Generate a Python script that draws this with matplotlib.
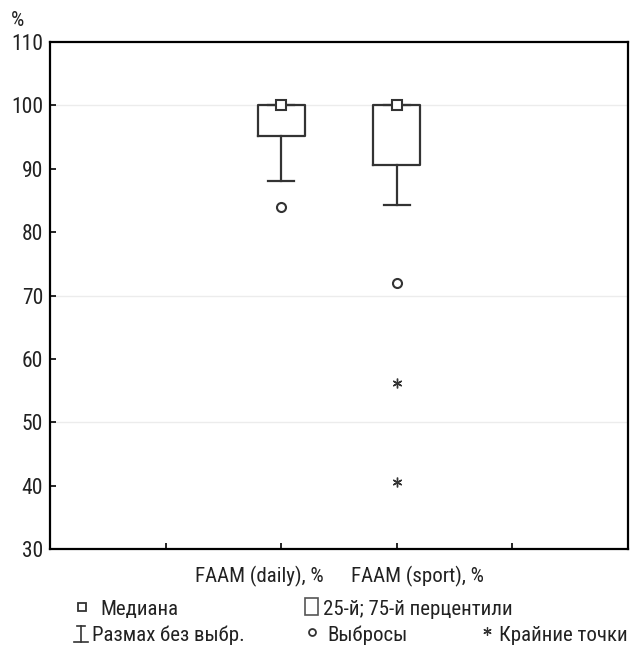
import matplotlib
matplotlib.use('Agg')
import matplotlib.pyplot as plt
from matplotlib.patches import Rectangle
from matplotlib.lines import Line2D
from matplotlib import font_manager

# ---- data ----
categories = ["FAAM (daily), %", "FAAM (sport), %"]
positions = [2, 3]
medians = [100, 100]
q1 = [95.1, 90.6]
q3 = [100, 100]
whisker_low = [88.0, 84.3]
whisker_high = [100, 100]
outliers = [[84.0], [71.9]]
extremes = [[], [56.2, 40.6]]
yticks = [30, 40, 50, 60, 70, 80, 90, 100, 110]
grid_levels = [100, 70, 50]
legend_row1 = ["Медиана", "25-й; 75-й перцентили"]
legend_row2 = ["Размах без выбр.", "Выбросы", "Крайние точки"]

names = {f.name for f in font_manager.fontManager.ttflist}
condensed = [n for n in ['Roboto Condensed', 'Liberation Sans Narrow', 'Open Sans Condensed']
             if n in names]
if condensed:
    FAM = [condensed[0], 'DejaVu Sans']
    FS = 15
else:
    FAM = ['Liberation Sans', 'DejaVu Sans']
    FS = 12.8
plt.rcParams['font.family'] = FAM
DARK = '#333333'
TXT = '#222222'

W, H = 632, 646
fig = plt.figure(figsize=(W / 100, H / 100), dpi=100)
ax = fig.add_axes([50 / W, (H - 549) / H, 578 / W, 507 / H])

stats = []
for m, a, b, lo, hi in zip(medians, q1, q3, whisker_low, whisker_high):
    stats.append(dict(med=m, q1=a, q3=b, whislo=lo, whishi=hi, fliers=[]))

ax.bxp(stats, positions=positions, widths=0.41, capwidths=0.22,
       showfliers=False, manage_ticks=False,
       boxprops=dict(color=DARK, linewidth=1.6),
       whiskerprops=dict(color=DARK, linewidth=1.6),
       capprops=dict(color=DARK, linewidth=1.6),
       medianprops=dict(linewidth=0))
ax.plot(positions, medians, 's', mfc='white', mec=DARK, ms=6.5, mew=1.5, zorder=5)

for p, vals in zip(positions, outliers):
    ax.plot([p] * len(vals), vals, 'o', mfc='white', mec=DARK, ms=6.5, mew=1.5, zorder=5)
for p, vals in zip(positions, extremes):
    ax.plot([p] * len(vals), vals, marker=(6, 2, 0), ls='none', mec=DARK,
            ms=7, mew=1.0, zorder=5)

for g in grid_levels:
    ax.axhline(g, color='#ececec', lw=1.0, zorder=0)

ax.set_xlim(0, 5)
ax.set_ylim(30, 110)
ax.set_yticks(yticks)
ax.set_yticklabels([str(t) for t in yticks])
ax.set_xticks([1, 2, 3, 4])
ax.set_xticklabels([])
ax.tick_params(axis='both', direction='in', length=4, width=1.2, color='black',
               labelsize=FS + 0.5, labelcolor=TXT)
ax.tick_params(axis='y', pad=5)
for s in ax.spines.values():
    s.set_linewidth(1.6)
    s.set_color('black')

# category labels below the axis
label_offsets = [-0.19, 0.18]
for p, off, c in zip(positions, label_offsets, categories):
    ax.text(p + off, -0.065, c, transform=ax.get_xaxis_transform(),
            ha='center', va='baseline', fontsize=FS, color=TXT)

# "%" unit label
fig.text(17 / W, 1 - 26 / H, "%", ha='center', va='baseline', fontsize=FS, color=TXT)

# ---- legend in pixel coordinates ----
lax = fig.add_axes([0, 0, 1, 1])
lax.set_xlim(0, W)
lax.set_ylim(H, 0)
lax.axis('off')
b1, b2 = 615, 641
r1, r2 = 607, 634
# median
lax.plot([82], [r1], 's', mfc='white', mec=DARK, ms=6, mew=1.3)
lax.text(100, b1, legend_row1[0], ha='left', va='baseline', fontsize=FS, color=TXT)
# box
lax.add_patch(Rectangle((305, 598), 13, 17, fill=False, ec='#555555', lw=1.2))
lax.text(323, b1, legend_row1[1], ha='left', va='baseline', fontsize=FS, color=TXT)
# whisker symbol
lax.add_line(Line2D([81, 81], [626, 642], color=DARK, lw=1.2))
lax.add_line(Line2D([74, 88], [642, 642], color=DARK, lw=1.2))
lax.add_line(Line2D([77, 85], [626, 626], color=DARK, lw=1.2))
lax.text(92, b2, legend_row2[0], ha='left', va='baseline', fontsize=FS, color=TXT)
# outlier
lax.plot([312], [r2 - 2], 'o', mfc='white', mec=DARK, ms=5, mew=1.3)
lax.text(327, b2, legend_row2[1], ha='left', va='baseline', fontsize=FS, color=TXT)
# extreme
lax.plot([487], [r2 - 3], marker=(6, 2, 0), ls='none', mec=DARK, ms=6, mew=0.9)
lax.text(499, b2, legend_row2[2], ha='left', va='baseline', fontsize=FS, color=TXT)

fig.savefig('out.png', dpi=100)
